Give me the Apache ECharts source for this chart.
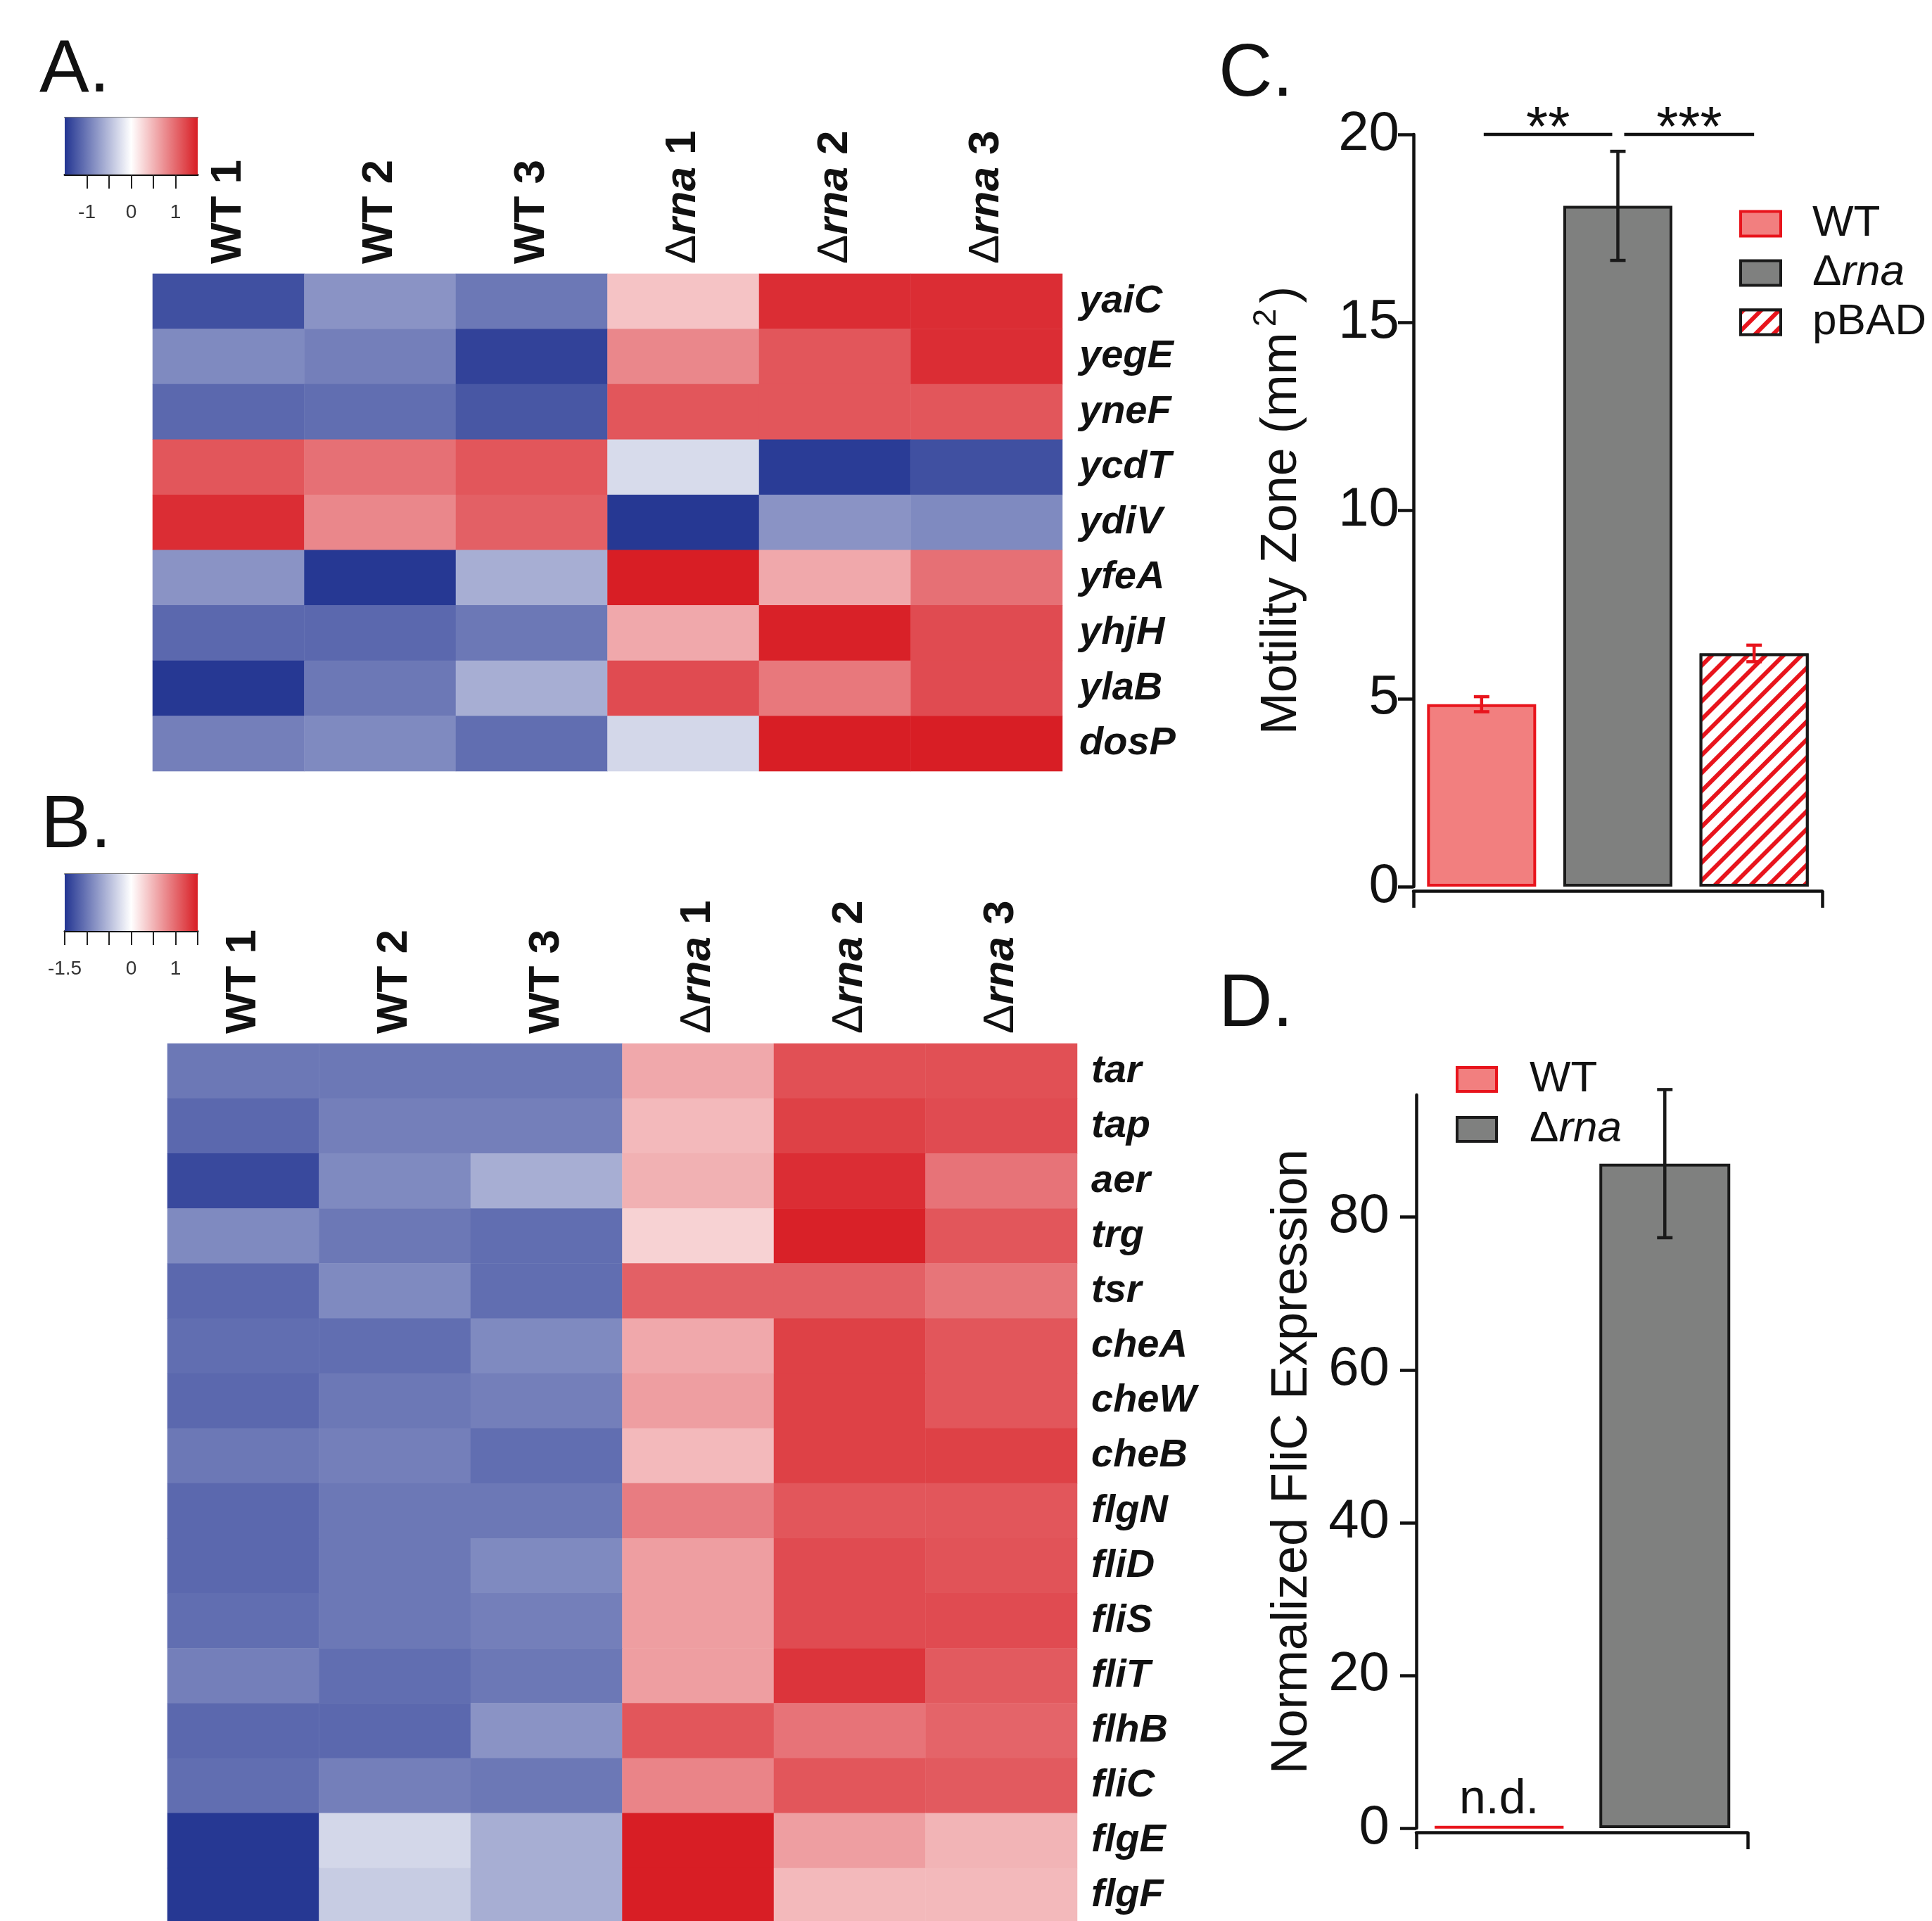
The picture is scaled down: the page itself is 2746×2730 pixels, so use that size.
<!DOCTYPE html>
<html><head><meta charset="utf-8">
<script src="https://cdn.jsdelivr.net/npm/echarts@6/dist/echarts.min.js"></script>
<style>html,body{margin:0;padding:0;background:#fff}#c{width:2746px;height:2730px}</style>
</head><body><div id="c"></div>
<script>
const samples = ['WT 1','WT 2','WT 3','Δrna 1','Δrna 2','Δrna 3'];
const genesA = ['yaiC','yegE','yneF','ycdT','ydiV','yfeA','yhjH','ylaB','dosP'];
const heatA = [
  [-1.30,-0.80,-1.00, 0.40, 1.40, 1.40],
  [-0.87,-0.95,-1.40, 0.80, 1.13, 1.40],
  [-1.12,-1.08,-1.25, 1.13, 1.13, 1.13],
  [ 1.13, 0.95, 1.13,-0.27,-1.45,-1.30],
  [ 1.40, 0.80, 1.06,-1.48,-0.80,-0.87],
  [-0.80,-1.48,-0.60, 1.50, 0.58, 0.95],
  [-1.12,-1.12,-1.00, 0.58, 1.48, 1.20],
  [-1.48,-1.00,-0.60, 1.20, 0.90, 1.20],
  [-0.95,-0.87,-1.08,-0.30, 1.50, 1.50]
];
const genesB = ['tar','tap','aer','trg','tsr','cheA','cheW','cheB','flgN','fliD','fliS','fliT','flhB','fliC','flgE','flgF'];
const heatB = [
  [-1.00,-1.00,-1.00, 0.58, 1.17, 1.17],
  [-1.12,-0.95,-0.95, 0.47, 1.27, 1.20],
  [-1.35,-0.87,-0.60, 0.52, 1.40, 0.93],
  [-0.87,-1.00,-1.08, 0.30, 1.48, 1.13],
  [-1.12,-0.87,-1.08, 1.06, 1.06, 0.92],
  [-1.08,-1.08,-0.87, 0.58, 1.27, 1.13],
  [-1.12,-1.00,-0.95, 0.65, 1.27, 1.13],
  [-1.00,-0.95,-1.08, 0.47, 1.27, 1.27],
  [-1.12,-1.00,-1.00, 0.87, 1.13, 1.13],
  [-1.12,-1.00,-0.87, 0.65, 1.20, 1.15],
  [-1.08,-1.00,-0.95, 0.65, 1.20, 1.20],
  [-0.95,-1.08,-1.00, 0.65, 1.35, 1.10],
  [-1.12,-1.12,-0.80, 1.13, 0.93, 1.03],
  [-1.08,-0.95,-1.00, 0.82, 1.13, 1.10],
  [-1.48,-0.30,-0.60, 1.50, 0.65, 0.50],
  [-1.48,-0.38,-0.60, 1.50, 0.47, 0.47]
];
const colorRange = [-1.5, 1.5];
const cbTicksA = [-1, -0.5, 0, 0.5, 1];
const cbLabelsA = [-1, 0, 1];
const cbTicksB = [-1.5, -1, -0.5, 0, 0.5, 1, 1.5];
const cbLabelsB = [-1.5, 0, 1];

const motCats = ['WT', 'Δrna', 'pBAD'];
const motility = [4.85, 18.1, 6.2];
const motilityErr = [0.2, 1.45, 0.22];
const motTicks = [0, 5, 10, 15, 20];
const sigPairs = [[0, 1, '**'], [1, 2, '***']];
const sigLevel = 20;

const flicCats = ['WT', 'Δrna'];
const flic = [0.25, 87];
const flicErr = [0, 9.7];
const flicTicks = [0, 20, 40, 60, 80];

const F = 'Liberation Sans, Arial, Helvetica, sans-serif';
const BLUE = '#233592', RED = '#d81e25';
const INK = '#111111';
const WT_FILL = '#f27f7f', WT_LINE = '#e8141c', KO_FILL = '#7f807f', KO_LINE = '#1a1a1a';

const chart = echarts.init(document.getElementById('c'), null, {renderer: 'canvas', width: 2746, height: 2730});

function sampleFmt(v) {
  if (v.indexOf('Δ') === 0) { return '{d|Δ}{i|rna}' + v.slice(4); }
  return v;
}
const sampleRich = {d: {fontWeight: 'normal', fontSize: 62, fontFamily: F}, i: {fontStyle: 'italic', fontWeight: 'bold', fontSize: 62, fontFamily: F}};

function cells(m) {
  const out = [];
  m.forEach((row, r) => row.forEach((v, c) => out.push([c, r, v])));
  return out;
}
function cbRender(params, api) {
  const p0 = api.coord([api.value(0), 1]);
  const p1 = api.coord([api.value(1), 0]);
  return {type: 'rect', shape: {x: p0[0], y: p0[1], width: p1[0] - p0[0], height: p1[1] - p0[1]},
    style: {fill: new echarts.graphic.LinearGradient(0, 0, 1, 0, [
      {offset: 0, color: BLUE}, {offset: 0.5, color: '#ffffff'}, {offset: 1, color: RED}])}};
}
function errRender(colors) {
  return function (params, api) {
    const x = api.value(0), lo = api.value(1), hi = api.value(2);
    const a = api.coord([x, lo]), b = api.coord([x, hi]);
    const cw = 11, col = colors[x];
    const st = {stroke: col, lineWidth: 4.5};
    return {type: 'group', children: [
      {type: 'line', shape: {x1: a[0], y1: a[1], x2: b[0], y2: b[1]}, style: st},
      {type: 'line', shape: {x1: a[0] - cw, y1: a[1], x2: a[0] + cw, y2: a[1]}, style: st},
      {type: 'line', shape: {x1: b[0] - cw, y1: b[1], x2: b[0] + cw, y2: b[1]}, style: st}
    ]};
  };
}
function sigRender(params, api) {
  const a = api.value(0), b = api.value(1), y = api.value(2);
  const pa = api.coord([a, y]), pb = api.coord([b, y]);
  const x1 = pa[0] + (a === 1 ? 9 : 3), x2 = pb[0] - (b === 1 ? 8 : 0);
  return {type: 'group', children: [
    {type: 'line', shape: {x1: x1, y1: pa[1], x2: x2, y2: pa[1]}, style: {stroke: INK, lineWidth: 4.5}},
    {type: 'text', x: (x1 + x2) / 2, y: pa[1] - 6, style: {text: sigPairs[params.dataIndex][2], fontSize: 80, fontFamily: F, fill: INK, align: 'center', verticalAlign: 'middle'}}
  ]};
}

const heatXAxis = (g) => ({gridIndex: g, type: 'category', data: samples, position: 'top',
  axisLine: {show: false}, axisTick: {show: false}, splitLine: {show: false},
  axisLabel: {rotate: -90, margin: 14, fontSize: 62, fontWeight: 'bold', fontFamily: F, color: INK, formatter: sampleFmt, rich: sampleRich}});
const heatYAxis = (g, genes, margin) => ({gridIndex: g, type: 'category', data: genes, inverse: true, position: 'right',
  axisLine: {show: false}, axisTick: {show: false}, splitLine: {show: false},
  axisLabel: {margin: margin, fontSize: 56, fontWeight: 'bold', fontStyle: 'italic', fontFamily: F, color: INK, align: 'left'}});
const cbXAxis = (g, ticks, labels) => ({gridIndex: g, type: 'value', min: colorRange[0], max: colorRange[1], position: 'bottom',
  axisLine: {show: true, lineStyle: {color: INK, width: 3}},
  axisTick: {show: true, length: 20, customValues: ticks, lineStyle: {color: '#222', width: 2}},
  axisLabel: {show: true, customValues: labels, margin: 40, fontSize: 28, fontFamily: F, color: '#333'},
  splitLine: {show: false}});
const cbTopAxis = (g) => ({gridIndex: g, type: 'value', min: colorRange[0], max: colorRange[1], position: 'top',
  axisLine: {show: true, lineStyle: {color: '#777', width: 2}}, axisTick: {show: false}, axisLabel: {show: false}, splitLine: {show: false}});
const hiddenY = (g) => ({gridIndex: g, type: 'value', min: 0, max: 1, show: false});
const endAxis = (g) => ({gridIndex: g, type: 'value', min: 0, max: 1, interval: 1, position: 'bottom', offset: 6,
  axisLine: {show: true, lineStyle: {color: INK, width: 4.5}},
  axisTick: {show: true, length: 24, lineStyle: {color: INK, width: 4.5}},
  axisLabel: {show: false}, splitLine: {show: false}});

const grids = [
  {left: 217, top: 389, width: 1293, height: 707},
  {left: 238, top: 1483, width: 1293, height: 1250},
  {left: 92, top: 167, width: 189, height: 81},
  {left: 92, top: 1242, width: 189, height: 81},
  {left: 2009, top: 191, width: 581, height: 1069},
  {left: 2013, top: 1556, width: 471, height: 1042}
].map(g => Object.assign({outerBoundsMode: 'none', containLabel: false}, g));

const option = {
  backgroundColor: '#ffffff',
  animation: false,
  textStyle: {fontFamily: F},
  grid: grids,
  xAxis: [
    heatXAxis(0),
    heatXAxis(1),
    cbXAxis(2, cbTicksA, cbLabelsA),
    cbXAxis(3, cbTicksB, cbLabelsB),
    {gridIndex: 4, type: 'category', data: motCats, show: false},
    endAxis(4),
    {gridIndex: 5, type: 'category', data: flicCats, show: false},
    endAxis(5),
    cbTopAxis(2),
    cbTopAxis(3)
  ],
  yAxis: [
    heatYAxis(0, genesA, 24),
    heatYAxis(1, genesB, 20),
    hiddenY(2),
    hiddenY(3),
    {gridIndex: 4, type: 'value', min: 0, max: 20, interval: 5,
      axisLine: {show: true, lineStyle: {color: INK, width: 4.5}},
      axisTick: {show: true, length: 22, lineStyle: {color: INK, width: 4.5}},
      axisLabel: {margin: 20, fontSize: 78, fontFamily: F, color: INK, customValues: motTicks},
      splitLine: {show: false},
      name: '{a|Motility Zone (mm}{s|2}{a|)}', nameLocation: 'middle', nameGap: 142,
      nameTextStyle: {fontSize: 72, fontFamily: F, color: INK, rich: {
        a: {fontSize: 72, fontFamily: F, color: INK, lineHeight: 90},
        s: {fontSize: 46, fontFamily: F, color: INK, verticalAlign: 'top', lineHeight: 46, padding: [0, 8, 0, 8]}}}},
    {gridIndex: 5, type: 'value', min: 0, max: 96, interval: 20,
      axisLine: {show: true, lineStyle: {color: INK, width: 4.5}},
      axisTick: {show: true, length: 23, customValues: flicTicks, lineStyle: {color: INK, width: 4.5}},
      axisLabel: {margin: 38, fontSize: 78, fontFamily: F, color: INK, customValues: flicTicks},
      splitLine: {show: false},
      name: 'Normalized FliC Expression', nameLocation: 'middle', nameGap: 140,
      nameTextStyle: {fontSize: 72, fontFamily: F, color: INK}}
  ],
  visualMap: [
    {show: false, type: 'continuous', seriesIndex: 0, dimension: 2, min: colorRange[0], max: colorRange[1], inRange: {color: [BLUE, '#ffffff', RED]}},
    {show: false, type: 'continuous', seriesIndex: 1, dimension: 2, min: colorRange[0], max: colorRange[1], inRange: {color: [BLUE, '#ffffff', RED]}}
  ],
  legend: [
    {data: ['WT', 'Δrna', 'pBAD'], orient: 'vertical', left: 2467, top: 282, itemWidth: 57, itemHeight: 35, itemGap: 8,
      icon: 'rect', itemStyle: {borderWidth: 4},
      textStyle: {fontSize: 62, lineHeight: 60, fontFamily: F, color: INK, padding: [0, 0, 0, 40],
        rich: {i: {fontStyle: 'italic', fontSize: 62, fontFamily: F, color: INK}}},
      formatter: n => n === 'Δrna' ? 'Δ{i|rna}' : n},
    {data: ['WT', 'Δrna'], orient: 'vertical', left: 2064, top: 1498, itemWidth: 56, itemHeight: 34, itemGap: 9,
      icon: 'rect', itemStyle: {borderWidth: 4},
      textStyle: {fontSize: 62, lineHeight: 60, fontFamily: F, color: INK, padding: [0, 0, 0, 42],
        rich: {i: {fontStyle: 'italic', fontSize: 62, fontFamily: F, color: INK}}},
      formatter: n => n === 'Δrna' ? 'Δ{i|rna}' : n}
  ],
  graphic: [
    {type: 'text', left: 56, top: 48, style: {text: 'A.', fontSize: 106, fontFamily: F, fill: INK}},
    {type: 'text', left: 58, top: 1122, style: {text: 'B.', fontSize: 106, fontFamily: F, fill: INK}},
    {type: 'text', left: 1732, top: 54, style: {text: 'C.', fontSize: 106, fontFamily: F, fill: INK}},
    {type: 'text', left: 1732, top: 1376, style: {text: 'D.', fontSize: 106, fontFamily: F, fill: INK}}
  ],
  series: [
    {type: 'heatmap', xAxisIndex: 0, yAxisIndex: 0, data: cells(heatA), itemStyle: {borderWidth: 0}, emphasis: {disabled: true}},
    {type: 'heatmap', xAxisIndex: 1, yAxisIndex: 1, data: cells(heatB), itemStyle: {borderWidth: 0}, emphasis: {disabled: true}},
    {type: 'custom', xAxisIndex: 2, yAxisIndex: 2, renderItem: cbRender, data: [colorRange], silent: true},
    {type: 'custom', xAxisIndex: 3, yAxisIndex: 3, renderItem: cbRender, data: [colorRange], silent: true},
    {name: 'WT', type: 'bar', xAxisIndex: 4, yAxisIndex: 4, barWidth: 155, barGap: '-100%',
      data: [motility[0], '-', '-'], itemStyle: {color: WT_FILL, borderColor: WT_LINE, borderWidth: 4}},
    {name: 'Δrna', type: 'bar', xAxisIndex: 4, yAxisIndex: 4, barWidth: 155, barGap: '-100%',
      data: ['-', motility[1], '-'], itemStyle: {color: KO_FILL, borderColor: KO_LINE, borderWidth: 4}},
    {name: 'pBAD', type: 'bar', xAxisIndex: 4, yAxisIndex: 4, barWidth: 155, barGap: '-100%',
      data: ['-', '-', motility[2]], itemStyle: {color: '#ffffff', borderColor: KO_LINE, borderWidth: 4,
        decal: {symbol: 'rect', symbolSize: 1, color: WT_LINE, backgroundColor: '#ffffff', dashArrayX: [1, 0], dashArrayY: [6, 12], rotation: -Math.PI / 4}}},
    {type: 'custom', xAxisIndex: 4, yAxisIndex: 4, renderItem: errRender([WT_LINE, KO_LINE, WT_LINE]), z: 5,
      data: motility.map((v, i) => [i, v - motilityErr[i], v + motilityErr[i]])},
    {type: 'custom', xAxisIndex: 4, yAxisIndex: 4, renderItem: sigRender, z: 5,
      data: sigPairs.map(p => [p[0], p[1], sigLevel])},
    {name: 'WT', type: 'bar', xAxisIndex: 6, yAxisIndex: 5, barWidth: 186, barGap: '-100%',
      data: [flic[0], '-'], itemStyle: {color: WT_FILL, borderColor: WT_LINE, borderWidth: 4},
      label: {show: true, position: 'top', distance: 2, formatter: 'n.d.', fontSize: 68, fontFamily: F, color: INK}},
    {name: 'Δrna', type: 'bar', xAxisIndex: 6, yAxisIndex: 5, barWidth: 186, barGap: '-100%',
      data: ['-', flic[1]], itemStyle: {color: KO_FILL, borderColor: KO_LINE, borderWidth: 4}},
    {type: 'custom', xAxisIndex: 6, yAxisIndex: 5, renderItem: errRender([WT_LINE, KO_LINE]), z: 5,
      data: flic.map((v, i) => [i, v - flicErr[i], v + flicErr[i]]).filter((d, i) => flicErr[i] > 0)}
  ]
};
chart.setOption(option);
</script>
</body></html>
